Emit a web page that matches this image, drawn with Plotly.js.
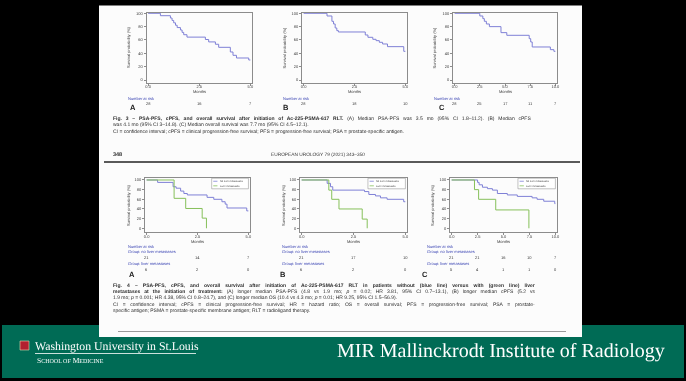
<!DOCTYPE html>
<html><head><meta charset="utf-8">
<script src="https://cdn.plot.ly/plotly-3.0.1.min.js"></script>
<style>
html,body{margin:0;padding:0;background:#000;}
#chart{width:686px;height:381px;filter:blur(0.3px);}
#chart svg text{text-rendering:geometricPrecision;}
</style>
</head><body><div id="chart"></div>
<script>
// ---------- DATA ----------
const ticksShort = [0, 2.5, 5];
const ticksShortText = ['0.0', '2.5', '5.0'];
const ticksLong = [0, 2.5, 5, 7.5, 10];
const ticksLongText = ['0.0', '2.5', '5.0', '7.5', '10.0'];
const yTicks = [0, 20, 40, 60, 80, 100];

// Fig. 3 (all patients)
const topA_t = [0, 0.6, 1.09, 1.17, 1.25, 1.34, 1.42, 1.58, 1.66, 1.74, 1.9, 2.8, 2.96, 3.29, 3.45, 4.02, 4.15, 4.32, 4.92, 5.0];
const topA_s = [100, 96.4, 92.9, 89.3, 85.7, 82.1, 78.6, 75, 71.4, 67.9, 64.3, 60.7, 57.1, 53.6, 49, 42, 37, 33, 30, 30];
const topB_t = [0, 1.15, 1.39, 1.47, 1.55, 1.63, 1.71, 3.03, 3.16, 3.4, 3.56, 3.72, 3.88, 4.12, 4.92, 5.0];
const topB_s = [100, 96, 88, 84, 78, 74, 72, 67.5, 64, 61, 59, 56.5, 54, 50, 43, 43];
const topC_t = [0, 2.5, 2.8, 2.95, 3.15, 3.45, 4.6, 5.18, 7.4, 7.55, 7.7, 9.5, 9.85, 10.0];
const topC_s = [100, 96, 92, 88, 84, 80, 71, 67, 62, 57, 49.5, 45.5, 43, 43];
const topA_risk = [28, 16, 7];
const topB_risk = [28, 18, 10];
const topC_risk = [28, 25, 17, 11, 7];

// Fig. 4 (no liver metastases = blue, liver metastases = green)
const botA_blue_t = [0, 0.54, 1.3, 1.45, 1.67, 1.83, 2.0, 2.97, 3.3, 3.7, 3.86, 3.95, 4.92, 5.0];
const botA_blue_s = [100, 95, 86, 83, 77, 72, 69, 64, 60, 55, 50, 42, 36, 36];
const botA_green_t = [0, 1.35, 1.92, 2.73, 2.94];
const botA_green_s = [100, 62, 41, 21, 0];
const botB_blue_t = [0, 1.23, 1.39, 1.5, 3.03, 3.24, 3.56, 3.8, 4.12, 4.92, 5.0];
const botB_blue_s = [100, 93, 86, 79, 76, 70, 67, 63, 60, 55, 55];
const botB_green_t = [0, 1.31, 1.45, 1.8, 2.92, 3.16];
const botB_green_s = [100, 79, 60, 40, 19, 0];
const botC_blue_t = [0, 2.5, 2.65, 2.97, 3.45, 3.93, 4.41, 5.37, 6.33, 7.76, 8.24, 8.88, 9.94, 10.0];
const botC_blue_s = [100, 95, 90, 85, 82, 79, 72, 69, 66, 63, 60, 56, 51, 51];
const botC_green_t = [0, 2.2, 2.6, 4.25, 7.45];
const botC_green_s = [100, 80, 60, 38, 0];
const botA_riskNo = [21, 14, 7], botA_riskLiver = [6, 2, 0];
const botB_riskNo = [21, 17, 10], botB_riskLiver = [6, 2, 0];
const botC_riskNo = [21, 21, 16, 10, 7], botC_riskLiver = [5, 4, 1, 1, 0];

const legendNames = ['No liver metastases', 'Liver metastases'];
const fig3Lines = [
  "<b>Fig. 3 – PSA-PFS, cPFS, and overall survival after initiation of Ac-225-PSMA-617 RLT.</b> (A) Median PSA-PFS was 3.5 mo (95% CI 1.8–11.2). (B) Median cPFS",
  "was 4.1 mo (95% CI 3–14.8). (C) Median overall survival was 7.7 mo (95% CI 4.5–12.1).",
  "CI = confidence interval; cPFS = clinical progression-free survival; PFS = progression-free survival; PSA = prostate-specific antigen."
];
const fig3Justify = [true, false, false];
const fig4Lines = [
  "<b>Fig. 4 – PSA-PFS, cPFS, and overall survival after initiation of Ac-225-PSMA-617 RLT in patients without (blue line) versus with (green line) liver</b>",
  "<b>metastases at the initiation of treatment:</b> (A) longer median PSA-PFS (4.8 vs 1.9 mo; <i>p</i> = 0.02; HR 3.81, 95% CI 0.7–13.1), (B) longer median cPFS (5.2 vs",
  "1.9 mo; <i>p</i> = 0.001; HR 4.38, 95% CI 0.8–24.7), and (C) longer median OS (10.4 vs 4.3 mo; <i>p</i> = 0.01; HR 9.25, 95% CI 1.5–56.9).",
  "CI = confidence interval; cPFS = clinical progression-free survival; HR = hazard ratio; OS = overall survival; PFS = progression-free survival; PSA = prostate-",
  "specific antigen; PSMA = prostate-specific membrane antigen; RLT = radioligand therapy."
];
const fig4Justify = [true, true, false, true, false];

// ---------- LAYOUT HELPERS ----------
const W = 686, H = 381;
const px = x => x / W, py = y => 1 - y / H;
const BLUE = '#7f80d6', GREEN = '#86c05a', FRAME = '#8c8c8c', TXT = '#3a3a3a', RISKBLUE = '#3c46b4';
const SANS = 'Liberation Sans, Arial, sans-serif';
const SERIF = 'Liberation Serif, Times New Roman, serif';

const traces = [];
function km(t, s, color, n) {
  traces.push({type: 'scatter', mode: 'lines', x: t, y: s, xaxis: 'x' + (n === 1 ? '' : n), yaxis: 'y' + (n === 1 ? '' : n),
    line: {shape: 'hv', color: color, width: 1}, showlegend: false, hoverinfo: 'skip'});
}
km(topA_t, topA_s, BLUE, 1);
km(topB_t, topB_s, BLUE, 2);
km(topC_t, topC_s, BLUE, 3);
km(botA_blue_t, botA_blue_s, BLUE, 4);
km(botA_green_t, botA_green_s, GREEN, 4);
km(botB_blue_t, botB_blue_s, BLUE, 5);
km(botB_green_t, botB_green_s, GREEN, 5);
km(botC_blue_t, botC_blue_s, BLUE, 6);
km(botC_green_t, botC_green_s, GREEN, 6);

const layout = {width: W, height: H, margin: {l: 0, r: 0, t: 0, b: 0}, paper_bgcolor: '#000', plot_bgcolor: '#fff',
  showlegend: false, annotations: [], shapes: []};

const panels = [
  {n: 1, x0: 146.5, x1: 252, y0: 12.5, y1: 82.5, long: false, yr: [-3.75, 101.2]},
  {n: 2, x0: 302, x1: 407, y0: 12.5, y1: 82.5, long: false, yr: [-3.75, 101.2]},
  {n: 3, x0: 453, x1: 557, y0: 12.5, y1: 82.5, long: true, yr: [-3.75, 101.2]},
  {n: 4, x0: 145, x1: 250, y0: 178, y1: 232, long: false, yr: [-7.7, 104.1]},
  {n: 5, x0: 300, x1: 407, y0: 178, y1: 232, long: false, yr: [-7.7, 104.1]},
  {n: 6, x0: 450, x1: 557, y0: 178, y1: 232, long: true, yr: [-7.7, 104.1]}
];
panels.forEach(p => {
  const s = p.n === 1 ? '' : String(p.n);
  const xmax = p.long ? 10 : 5, pad = p.long ? 0.16 : 0.08;
  layout['xaxis' + s] = {domain: [px(p.x0), px(p.x1)], range: [-pad, xmax + pad], anchor: 'y' + s,
    tickvals: p.long ? ticksLong : ticksShort, ticktext: p.long ? ticksLongText : ticksShortText,
    showline: true, mirror: true, linecolor: FRAME, linewidth: 1, ticks: 'outside', ticklen: 2, tickcolor: FRAME,
    ticklabelstandoff: -2,
    showgrid: false, zeroline: false, tickfont: {family: SANS, size: 4, color: TXT}, fixedrange: true};
  layout['yaxis' + s] = {domain: [py(p.y1), py(p.y0)], range: p.yr, anchor: 'x' + s,
    tickvals: yTicks, showline: true, mirror: true, linecolor: FRAME, linewidth: 1, ticks: 'outside', ticklen: 2,
    tickcolor: FRAME, showgrid: false, zeroline: false, tickfont: {family: SANS, size: 4, color: TXT}, fixedrange: true};
});

const A = layout.annotations, S = layout.shapes;
function T(text, x, y, o) {
  A.push(Object.assign({text: text, x: px(x), y: py(y), xref: 'paper', yref: 'paper', showarrow: false,
    xanchor: 'left', yanchor: 'middle', borderpad: 0, font: {family: SANS, size: 4, color: TXT}}, o || {}));
}
function riskRow(vals, n, y) {
  const ticks = vals.length === 5 ? ticksLong : ticksShort;
  vals.forEach((v, i) => A.push({text: String(v), x: ticks[i], xref: 'x' + (n === 1 ? '' : n), y: py(y), yref: 'paper',
    showarrow: false, xanchor: 'center', yanchor: 'middle', borderpad: 0, font: {family: SANS, size: 4, color: TXT}}));
}

// justified caption lines (word-spacing computed from measured natural width)
const ctx = document.createElement('canvas').getContext('2d');
function natWidth(html, size) {
  let w = 0;
  html.split(/(<b>.*?<\/b>)/).forEach(seg => {
    if (!seg) return;
    const bold = seg.indexOf('<b>') === 0;
    ctx.font = (bold ? 'bold ' : '') + size + 'px "Liberation Sans"';
    w += ctx.measureText(seg.replace(/<[^>]+>/g, '')).width;
  });
  return w;
}
function justified(html, size, width) {
  const plain = html.replace(/<[^>]+>/g, '');
  const spaces = plain.split(' ').length - 1;
  const ws = Math.max(0, (width - natWidth(html, size)) / spaces);
  return "<span style='word-spacing:" + ws.toFixed(2) + "px'>" + html + "</span>";
}

// ---------- BACKGROUND SHAPES ----------
S.push({type: 'rect', xref: 'paper', yref: 'paper', x0: px(2), x1: px(684), y0: py(378), y1: py(325), fillcolor: '#006b55', line: {width: 0}, layer: 'below'});
S.push({type: 'rect', xref: 'paper', yref: 'paper', x0: px(99), x1: px(582), y0: py(337), y1: py(5.5), fillcolor: '#fcfcfc', line: {width: 0}, layer: 'below'});
S.push({type: 'line', xref: 'paper', yref: 'paper', x0: px(104), x1: px(580), y0: py(162), y1: py(162), line: {color: '#5a5a5a', width: 2}, layer: 'below'});
S.push({type: 'line', xref: 'paper', yref: 'paper', x0: px(118), x1: px(566), y0: py(331.5), y1: py(331.5), line: {color: '#9a9a9a', width: 1}, layer: 'below'});
// footer logo shield + rule
S.push({type: 'rect', xref: 'paper', yref: 'paper', x0: px(20), x1: px(29), y0: py(350), y1: py(341), fillcolor: '#b3202f', line: {color: '#e8d9b0', width: 0.6}});
S.push({type: 'line', xref: 'paper', yref: 'paper', x0: px(35), x1: px(196), y0: py(353.5), y1: py(353.5), line: {color: '#ffffff', width: 0.8}});

// ---------- CHART TEXTS ----------
const topLeft = [{n: 1, tx: 128.5, lx: 127, let: 'A', letx: 129}, {n: 2, tx: 284, lx: 282, let: 'B', letx: 282}, {n: 3, tx: 434, lx: 433, let: 'C', letx: 438}];
const topRisk = [topA_risk, topB_risk, topC_risk];
topLeft.forEach((o, i) => {
  const p = panels[i];
  T('Survival probability (%)', o.tx, 47.5, {textangle: -90, xanchor: 'center'});
  T('Months', (p.x0 + p.x1) / 2, 91.5, {xanchor: 'center'});
  T('Number at risk', o.lx, 98, {font: {family: SANS, size: 4, color: RISKBLUE}});
  riskRow(topRisk[i], o.n, 103.5);
  T('<b>' + o.let + '</b>', o.letx, 107.5, {font: {family: SANS, size: 7.5, color: '#222'}});
});
const botLeft = [{n: 4, tx: 128, lx: 127, let: 'A', letx: 128}, {n: 5, tx: 283, lx: 281, let: 'B', letx: 279}, {n: 6, tx: 432, lx: 426, let: 'C', letx: 421}];
const botRisk = [[botA_riskNo, botA_riskLiver], [botB_riskNo, botB_riskLiver], [botC_riskNo, botC_riskLiver]];
botLeft.forEach((o, i) => {
  const p = panels[i + 3];
  T('Survival probability (%)', o.tx, 205, {textangle: -90, xanchor: 'center'});
  T('Months', (p.x0 + p.x1) / 2, 241.5, {xanchor: 'center'});
  T('Number at risk', o.lx, 246.5, {font: {family: SANS, size: 4, color: RISKBLUE}});
  T('Group: no liver metastases', o.lx, 251.5, {font: {family: SANS, size: 4, color: RISKBLUE}});
  riskRow(botRisk[i][0], o.n, 257.5);
  T('Group: liver metastases', o.lx, 263.5, {font: {family: SANS, size: 4, color: RISKBLUE}});
  riskRow(botRisk[i][1], o.n, 269);
  T('<b>' + o.let + '</b>', o.letx, 274, {font: {family: SANS, size: 7.5, color: '#222'}});
  // legend box
  const xr = 'x' + o.n + ' domain', yr = 'y' + o.n + ' domain';
  S.push({type: 'rect', xref: xr, yref: yr, x0: 0.635, x1: 0.985, y0: 0.8, y1: 0.995, fillcolor: '#fff', line: {color: '#999', width: 0.6}});
  [BLUE, GREEN].forEach((c, k) => {
    const yy = k === 0 ? 0.94 : 0.855;
    S.push({type: 'line', xref: xr, yref: yr, x0: 0.65, x1: 0.69, y0: yy, y1: yy, line: {color: c, width: 0.8}});
    A.push({text: legendNames[k], xref: xr, yref: yr, x: 0.7, y: yy, showarrow: false, xanchor: 'left', yanchor: 'middle',
      borderpad: 0, font: {family: SANS, size: 2.6, color: TXT}});
  });
});

// ---------- CAPTIONS / HEADER ----------
const CAP = 5.0;
const capFont = {family: SANS, size: CAP, color: '#2e2e2e'};
const capLeft = 112, capWidth = 422;
[118, 124.5, 131].forEach((y, i) => T(fig3Justify[i] ? justified(fig3Lines[i], CAP, capWidth - 4) : fig3Lines[i], capLeft, y, {font: capFont}));
T('<b>348</b>', 112, 154, {font: {family: SANS, size: 5.5, color: '#2e2e2e'}});
T('EUROPEAN UROLOGY 79 (2021) 343–350', 318, 154, {xanchor: 'center', font: {family: SANS, size: 4.8, color: '#3a3a3a'}});
[285, 291, 297, 303.5, 309.5].forEach((y, i) => T(fig4Justify[i] ? justified(fig4Lines[i], CAP, capWidth) : fig4Lines[i], capLeft, y, {font: capFont}));

// ---------- FOOTER ----------
T('Washington University in St.Louis', 34, 345.5, {font: {family: SERIF, size: 11.8, color: '#fff'}});
T("S<span style='font-size:6px'>CHOOL OF</span> M<span style='font-size:6px'>EDICINE</span>", 36, 360, {font: {family: SERIF, size: 7.5, color: '#fff'}});
T('MIR Mallinckrodt Institute of Radiology', 666, 350, {xanchor: 'right', font: {family: SERIF, size: 20, color: '#fff'}});

Plotly.newPlot('chart', traces, layout, {staticPlot: true, displayModeBar: false});
</script></body></html>
